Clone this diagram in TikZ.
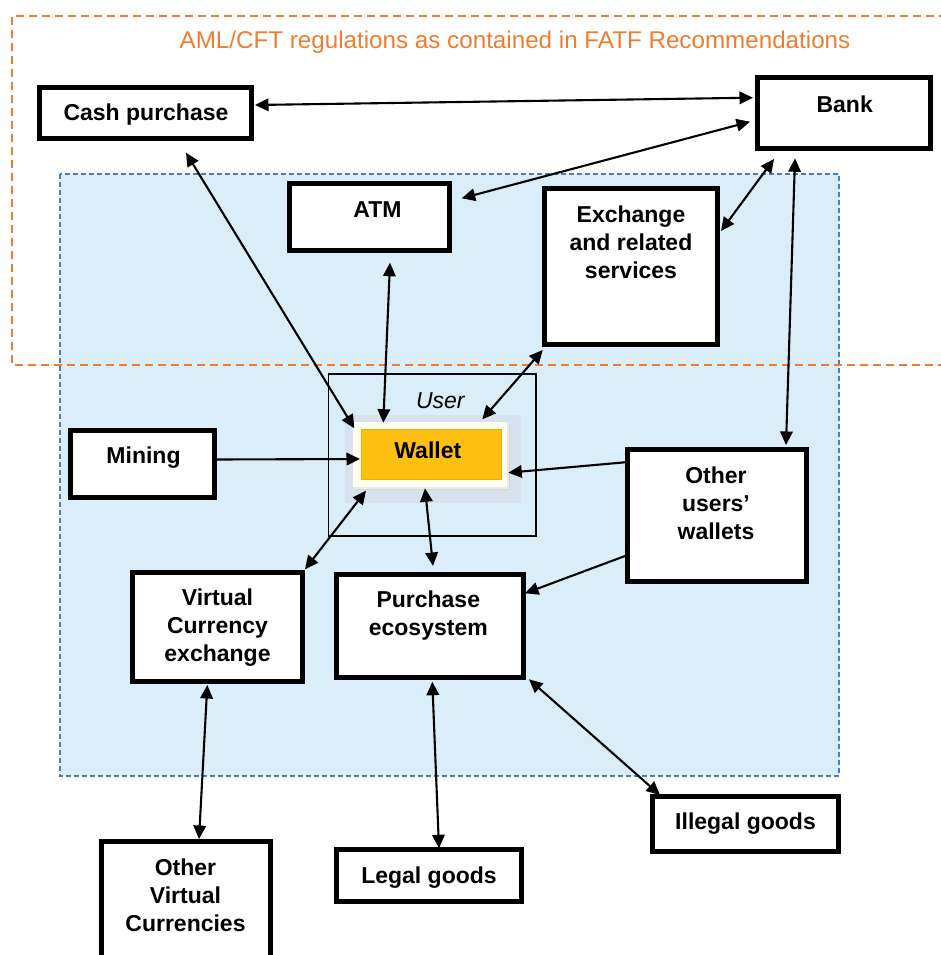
\documentclass[tikz,border=0pt]{standalone}
\usepackage{fontspec}
\setmainfont{Liberation Sans}
\usetikzlibrary{arrows.meta}
\definecolor{amlorange}{HTML}{ED7D31}
\definecolor{bluefill}{HTML}{D9EEF9}
\definecolor{bluedash}{HTML}{4A7EBB}
\definecolor{walletyellow}{HTML}{FDC010}
\definecolor{walletedge}{HTML}{EDB000}
\definecolor{halo}{HTML}{D6E2EC}
\newcommand\lblfont{\bfseries\fontsize{23}{28.3}\selectfont}
\begin{document}
\begin{tikzpicture}[x=1pt,y=-1pt,
  box/.style={draw, line width=5pt, fill=white, inner sep=0pt, outer sep=0pt, anchor=north west},
  lbl/.style={font=\lblfont, align=center, inner sep=0pt, anchor=north},
  dbl/.style={{Triangle[length=13.5pt,width=12.5pt]}-{Triangle[length=13.5pt,width=12.5pt]}, line width=2.1pt},
  sgl/.style={-{Triangle[length=13.5pt,width=12.5pt]}, line width=2.1pt}]
\useasboundingbox (0,0) rectangle (941,955);
\clip (0,0) rectangle (941,955);
% regions
\draw[bluedash, fill=bluefill, line width=1.5pt, dash pattern=on 5pt off 3pt] (60,174) rectangle (839,776);
\draw[amlorange, line width=2pt, dash pattern=on 8pt off 5pt] (960,16) -- (12,16) -- (12,365) -- (960,365);
\node[font=\fontsize{24.2}{28}\selectfont, text=amlorange, anchor=base, inner sep=0pt] (title) at (515,49) {AML/CFT regulations as contained in FATF Recommendations};
% user box and wallet
\node[draw, line width=1.2pt, minimum width=207.7pt, minimum height=162pt, inner sep=0pt, outer sep=0pt, anchor=north west] (user) at (328.3,374) {};
\node[font=\itshape\fontsize{23}{28}\selectfont, anchor=base, inner sep=0pt] (userT) at (440.3,408) {User};
\fill[halo] (345,415) rectangle (521,503);
\fill[black!16] (355,424) rectangle (510,490);
\fill[black!8] (354,423) rectangle (509,489);
\fill[white!94!yellow] (353,421.7) rectangle (506.7,486.7);
\node[draw=walletedge, line width=0.8pt, fill=walletyellow, minimum width=140.7pt, minimum height=50.3pt, inner sep=0pt, outer sep=0pt, anchor=north west] (wallet) at (361,429) {};
\node[lbl] (walletT) at (427.8,438) {\strut Wallet};
% boxes
\node[box, minimum width=212pt, minimum height=51pt] (cash) at (39.5,87.5) {};
\node[box, minimum width=173pt, minimum height=71pt] (bank) at (757.5,77.5) {};
\node[box, minimum width=160.5pt, minimum height=66.5pt] (atm) at (289,183.5) {};
\node[box, minimum width=173pt, minimum height=156.5pt] (exch) at (544.5,188) {};
\node[box, minimum width=144pt, minimum height=67pt] (mining) at (70.5,430) {};
\node[box, minimum width=179pt, minimum height=132.5pt] (others) at (627.5,449) {};
\node[box, minimum width=170pt, minimum height=109.5pt] (vc) at (132.5,572) {};
\node[box, minimum width=187.5pt, minimum height=103pt] (purch) at (336,574) {};
\node[box, minimum width=186pt, minimum height=55pt] (illegal) at (652.5,796.5) {};
\node[box, minimum width=185pt, minimum height=52pt] (legal) at (336.5,849.5) {};
\node[box, minimum width=169pt, minimum height=140pt] (ovc) at (101.5,841.5) {};
% labels
\node[lbl] (cashT) at (146,100) {\strut Cash purchase};
\node[lbl] (bankT) at (844.7,92) {\strut Bank};
\node[lbl] (atmT) at (377.5,197) {\strut ATM};
\node[lbl] (exchT) at (631,202) {\strut Exchange\\and related\\services};
\node[lbl] (miningT) at (143.5,443) {\strut Mining};
\node[lbl] (othersT) at (716,463) {\strut Other\\users’\\wallets};
\node[lbl] (vcT) at (217.5,585) {\strut Virtual\\Currency\\exchange};
\node[lbl] (purchT) at (428.3,587) {\strut Purchase\\ecosystem};
\node[lbl] (illegalT) at (745.5,809) {\strut Illegal goods};
\node[lbl] (legalT) at (429,863) {\strut Legal goods};
\node[lbl] (ovcT) at (185.5,855) {\strut Other\\Virtual\\Currencies};
% connectors
\draw[dbl] ([shift={(215.5,17.5)}]cash.north west) -- ([shift={(-4.5,20.2)}]bank.north west);
\draw[dbl] ([shift={(172.7,14.8)}]atm.north west) -- ([shift={(-7.5,44.2)}]bank.north west);
\draw[dbl] ([shift={(176.5,43)}]exch.north west) -- ([shift={(16.5,81.5)}]bank.north west);
\draw[dbl] ([shift={(37.5,80.8)}]bank.north west) -- ([shift={(158.5,-4)}]others.north west);
\draw[dbl] ([shift={(146.5,65.2)}]cash.north west) -- ([shift={(-6.7,-0.7)}]wallet.north west);
\draw[dbl] ([shift={(101,79.2)}]atm.north west) -- ([shift={(22.3,-6.3)}]wallet.north west);
\draw[dbl] ([shift={(-1.8,162)}]exch.north west) -- ([shift={(121.3,-9.7)}]wallet.north west);
\draw[sgl] ([shift={(146.5,29.5)}]mining.north west) -- ([shift={(-1,30)}]wallet.north west);
\draw[sgl] ([shift={(-2.5,13.3)}]others.north west) -- ([shift={(147.3,43.7)}]wallet.north west);
\draw[dbl] ([shift={(5,61.7)}]wallet.north west) -- ([shift={(172.5,-2.7)}]vc.north west);
\draw[dbl] ([shift={(64,59.3)}]wallet.north west) -- ([shift={(97,-8)}]purch.north west);
\draw[sgl] ([shift={(-2.5,107)}]others.north west) -- ([shift={(189,19.3)}]purch.north west);
\draw[dbl] ([shift={(74.8,113)}]vc.north west) -- ([shift={(97.5,-2.5)}]ovc.north west);
\draw[dbl] ([shift={(96.3,107.7)}]purch.north west) -- ([shift={(102.5,-1.2)}]legal.north west);
\draw[dbl] ([shift={(193,105.3)}]purch.north west) -- ([shift={(7.5,-1.5)}]illegal.north west);
\end{tikzpicture}
\end{document}
